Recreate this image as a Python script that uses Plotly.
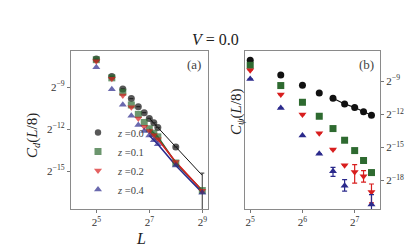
import numpy as np
import plotly.graph_objects as go

# ---------------- data ----------------
L_a = [32, 48, 64, 80, 96, 112, 128, 144, 160, 256, 512]
L_b = [32, 48, 64, 80, 96, 112, 128, 144, 160]
z_labels = ["z =0.0", "z =0.1", "z =0.2", "z =0.4"]

# panel (a): log2 of C_d(L/8)
cd_z00 = [-6.99, -8.23, -9.12, -9.81, -10.39, -10.82, -11.23, -11.54, -11.88, -13.27, -15.31]
cd_z01 = [-7.03, -8.33, -9.36, -10.27, -10.94, -11.52, -11.97, -12.29, -12.55, -14.42, -16.39]
cd_z02 = [-7.15, -8.40, -9.60, -10.44, -11.23, -11.83, -12.14, -12.43, -12.72, -14.35, -16.40]
cd_z04 = [-7.58, -9.14, -10.25, -11.04, -11.71, -12.14, -12.45, -12.79, -13.08, -14.60, -16.55]

# panel (b): log2 of C_psi(L/8)
cp_z00 = [-7.09, -8.43, -9.36, -10.06, -10.55, -11.06, -11.39, -11.76, -12.09]
cp_z01 = [-7.55, -9.39, -10.91, -12.18, -13.30, -14.36, -15.30, -16.20, -17.30]
cp_z02 = [-8.00, -10.21, -12.03, -13.73, -15.21, -16.64, -17.25, -17.64, -19.06]
cp_z04 = [-8.79, -11.42, -13.94, -15.58, -17.18, -18.49, None, None, -20.21]

# error bar ends (log2) : (upper, lower); None = no visible bar
cd_err_z00 = [None] * 10 + [(-15.15, -30.0)]
cp_err_z01 = [None] * 6 + [(-15.15, -15.45), None, (-17.1, -17.5)]
cp_err_z02 = [None] * 6 + [(-16.58, -18.25), (-17.13, -18.16), (-18.34, -20.06)]
cp_err_z04 = [None] * 4 + [(-16.82, -17.64), (-17.94, -18.99), None, None, (-19.3, -30.0)]

colors = ["#111111", "#2e6a30", "#d81e1e", "#2b2a8c"]
symbols = ["circle", "square", "triangle-down", "triangle-up"]

SERIF = "Liberation Serif"


def pw(vals):
    return [None if v is None else 2.0 ** v for v in vals]


def errs(vals, errspec):
    plus, minus = [], []
    for v, e in zip(vals, errspec):
        if e is None or v is None:
            plus.append(0)
            minus.append(0)
        else:
            plus.append(2.0 ** e[0] - 2.0 ** v)
            minus.append(2.0 ** v - 2.0 ** e[1])
    return plus, minus


fig = go.Figure()

# ---------- panel (a) ----------
cd_all = [cd_z00, cd_z01, cd_z02, cd_z04]
cd_errs = [cd_err_z00, None, None, None]
for i, (vals, col, sym, lab) in enumerate(zip(cd_all, colors, symbols, z_labels)):
    idx = [k for k, l in enumerate(L_a) if l >= 128]
    fig.add_trace(go.Scatter(
        x=[L_a[k] for k in idx], y=pw([vals[k] for k in idx]),
        mode="lines", line=dict(color=col, width=1.0 if i == 0 else 1.6),
        showlegend=False, xaxis="x", yaxis="y", hoverinfo="skip"))
for i, (vals, col, sym, lab) in enumerate(zip(cd_all, colors, symbols, z_labels)):
    ey = None
    if cd_errs[i] is not None:
        p, m = errs(vals, cd_errs[i])
        ey = dict(type="data", array=p, arrayminus=m, color="#555555" if i == 0 else col,
                  thickness=1.2, width=2)
    sizes = [7] * len(L_a)
    if i == 0:
        sizes[-1] = 0
    fig.add_trace(go.Scatter(
        x=L_a, y=pw(vals), mode="markers", name="<i>z</i> =" + lab.split("=")[1],
        marker=dict(color=col, symbol=sym, size=sizes, line=dict(width=0)),
        error_y=ey, xaxis="x", yaxis="y", showlegend=True))

# ---------- panel (b) ----------
cp_all = [cp_z00, cp_z01, cp_z02, cp_z04]
cp_errs = [None, cp_err_z01, cp_err_z02, cp_err_z04]
idxb = [k for k, l in enumerate(L_b) if l >= 96]
fig.add_trace(go.Scatter(
    x=[L_b[k] for k in idxb], y=pw([cp_z00[k] for k in idxb]),
    mode="lines", line=dict(color="#111111", width=1.2),
    showlegend=False, xaxis="x2", yaxis="y2", hoverinfo="skip"))
for i, (vals, col, sym) in enumerate(zip(cp_all, colors, symbols)):
    ey = None
    if cp_errs[i] is not None:
        p, m = errs(vals, cp_errs[i])
        ey = dict(type="data", array=p, arrayminus=m, color=col, thickness=1.2, width=2.5)
    fig.add_trace(go.Scatter(
        x=L_b, y=pw(vals), mode="markers",
        marker=dict(color=col, symbol=sym, size=7, line=dict(width=0)),
        error_y=ey, xaxis="x2", yaxis="y2", showlegend=False))

W, H = 415, 249
ax_common = dict(showgrid=False, zeroline=False, showline=True, mirror=True,
                 linecolor="#8a8a8a", linewidth=1.3, ticks="outside", ticklen=3,
                 tickcolor="#777777", tickfont=dict(family=SERIF, size=11, color="#333333"),
                 type="log")

fig.update_layout(
    width=W, height=H, autosize=False,
    margin=dict(l=0, r=0, t=0, b=0),
    paper_bgcolor="white", plot_bgcolor="white",
    font=dict(family=SERIF, color="#333333"),
    xaxis=dict(ax_common, domain=[63 / W, 200 / W], anchor="y",
               range=[np.log10(2 ** 4.045), np.log10(2 ** 9.215)],
               tickvals=[2 ** 5, 2 ** 7, 2 ** 9],
               ticktext=["2<sup>5</sup>", "2<sup>7</sup>", "2<sup>9</sup>"]),
    yaxis=dict(ax_common, domain=[1 - 201 / H, 1 - 43 / H], anchor="x",
               range=[np.log10(2 ** -17.71), np.log10(2 ** -6.41)],
               tickvals=[2 ** -9, 2 ** -12, 2 ** -15],
               ticktext=["2<sup>−9</sup>", "2<sup>−12</sup>", "2<sup>−15</sup>"]),
    xaxis2=dict(ax_common, domain=[237 / W, 372 / W], anchor="y2",
                range=[np.log10(2 ** 4.90), np.log10(2 ** 7.485)],
                tickvals=[2 ** 5, 2 ** 6, 2 ** 7],
                ticktext=["2<sup>5</sup>", "2<sup>6</sup>", "2<sup>7</sup>"]),
    yaxis2=dict(ax_common, domain=[1 - 201 / H, 1 - 43 / H], anchor="x2", side="right",
                range=[np.log10(2 ** -20.61), np.log10(2 ** -6.25)],
                tickvals=[2 ** -9, 2 ** -12, 2 ** -15, 2 ** -18],
                ticktext=["2<sup>−9</sup>", "2<sup>−12</sup>", "2<sup>−15</sup>", "2<sup>−18</sup>"]),
    legend=dict(x=70 / W, y=1 - 110 / H, xanchor="left", yanchor="top",
                bgcolor="rgba(0,0,0,0)", font=dict(family=SERIF, size=10.5, color="#444444"),
                tracegroupgap=0, itemwidth=30),
    showlegend=True,
)

ann = [
    dict(text="<i>V</i> = 0.0", x=207 / W, y=1 - 31 / H, font=dict(size=16, color="#222222")),
    dict(text="(a)", x=186 / W, y=1 - 57 / H, font=dict(size=13, color="#444444")),
    dict(text="(b)", x=358 / W, y=1 - 57 / H, font=dict(size=13, color="#444444")),
    dict(text="<i>L</i>", x=133 / W, y=1 - 230 / H, font=dict(size=16, color="#222222")),
    dict(text="<i>C<sub>d</sub></i>(<i>L</i>/8)", x=25 / W, y=1 - 128 / H, textangle=-90,
         font=dict(size=15, color="#222222")),
    dict(text="<i>C<sub>ψ</sub></i>(<i>L</i>/8)", x=229 / W, y=1 - 104 / H, textangle=-90,
         font=dict(size=15, color="#222222")),
]
for a in ann:
    fig.add_annotation(xref="paper", yref="paper", showarrow=False,
                       xanchor="center", yanchor="middle", **a)

fig.write_html("out.html")
